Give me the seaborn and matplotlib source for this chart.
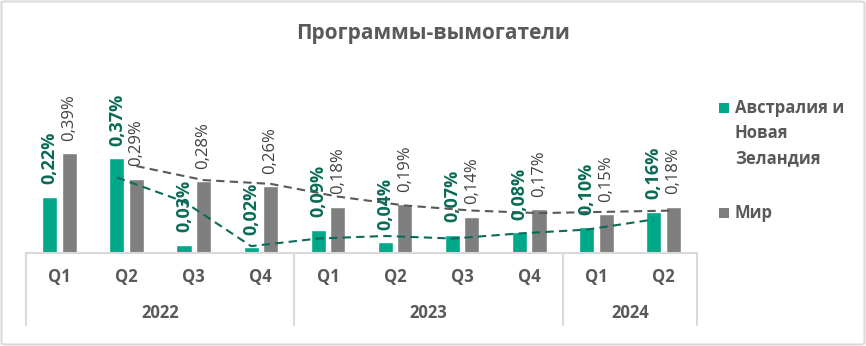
import numpy as np
import pandas as pd
import matplotlib
matplotlib.use("Agg")
import matplotlib.pyplot as plt
import matplotlib.transforms as mtransforms
from matplotlib.patches import FancyBboxPatch, Rectangle
import seaborn as sns

# Data: share of ransomware detections, %
years = ["2022", "2022", "2022", "2022", "2023", "2023", "2023", "2023", "2024", "2024"]
quarters = ["Q1", "Q2", "Q3", "Q4", "Q1", "Q2", "Q3", "Q4", "Q1", "Q2"]
series_names = ["Австралия и\nНовая\nЗеландия", "Мир"]
anz_values = [0.22, 0.37, 0.03, 0.02, 0.09, 0.04, 0.07, 0.08, 0.10, 0.16]
world_values = [0.39, 0.29, 0.28, 0.26, 0.18, 0.19, 0.14, 0.17, 0.15, 0.18]
title = "Программы-вымогатели"

bar_colors = ["#00A88A", "#7F7F7F"]
label_colors = ["#0B6B57", "#404040"]
trend_colors = ["#0B6B57", "#595959"]
text_grey = "#595959"
frame_grey = "#D9D9D9"

sns.set_theme(style="white")
plt.rcParams["font.family"] = ["Open Sans", "DejaVu Sans"]

W, H, DPI = 866, 346, 100
fig = plt.figure(figsize=(W / DPI, H / DPI), dpi=DPI)

# plot area in pixel terms
ax_left, ax_right, ax_base, ax_top = 26, 697, 252.5, 100
ax = fig.add_axes([ax_left / W, 1 - ax_base / H, (ax_right - ax_left) / W, (ax_base - ax_top) / H])

periods = [f"{y} {q}" for y, q in zip(years, quarters)]
df = pd.DataFrame({
    "period": periods * 2,
    "series": [series_names[0]] * len(periods) + [series_names[1]] * len(periods),
    "value": anz_values + world_values,
})

sns.barplot(data=df, x="period", y="value", hue="series", order=periods,
            hue_order=series_names, palette=bar_colors, saturation=1,
            width=0.58, gap=0.225, legend=False, ax=ax)

ax.set_xlim(-0.5, len(periods) - 0.5)
ax.set_ylim(0, 0.6)
ax.set_xlabel("")
ax.set_ylabel("")
ax.set_xticks([])
ax.set_yticks([])
for side in ["left", "right", "top"]:
    ax.spines[side].set_visible(False)
ax.spines["bottom"].set_color(frame_grey)
ax.spines["bottom"].set_linewidth(1.5)

def fmt(v):
    return f"{v:.2f}".replace(".", ",") + "%"

series_values = [anz_values, world_values]
for i, (container, vals) in enumerate(zip(ax.containers, series_values)):
    xs = np.array([b.get_x() + b.get_width() / 2 for b in container])
    # value labels
    for x, v in zip(xs, vals):
        ax.annotate(fmt(v), xy=(x, v), xytext=(0, 9), textcoords="offset points",
                    rotation=90, ha="center", va="bottom",
                    fontsize=13 if i == 0 else 12,
                    fontweight="bold" if i == 0 else "normal",
                    color=label_colors[i], annotation_clip=False, zorder=5)
    # two-period moving average trend line
    ma = pd.Series(vals).rolling(2).mean().to_numpy()
    ax.plot(xs[1:], ma[1:], color=trend_colors[i], lw=1.5,
            ls=(0, (4, 2.5)), zorder=4, clip_on=False)

# multi-level category axis
tr = mtransforms.blended_transform_factory(ax.transData, fig.transFigure)
def fy(px):
    return 1 - px / H

for k, q in enumerate(quarters):
    fig.text(k, fy(277), q, transform=tr, ha="center", va="center",
             fontsize=12, fontweight="bold", color=text_grey)

year_groups = []
for k, y in enumerate(years):
    if not year_groups or year_groups[-1][0] != y:
        year_groups.append([y, k, k])
    else:
        year_groups[-1][2] = k
for y, k0, k1 in year_groups:
    fig.text((k0 + k1) / 2, fy(313), y, transform=tr, ha="center", va="center",
             fontsize=12, fontweight="bold", color=text_grey)

bounds = [-0.5] + [k1 + 0.5 for _, _, k1 in year_groups]
for b in bounds:
    fig.add_artist(plt.Line2D([b, b], [fy(252.5), fy(325)], transform=tr,
                              color=frame_grey, lw=1.5))

# title
fig.text(0.5, fy(34), title, ha="center", va="center", fontsize=15,
         fontweight="bold", color=text_grey)

# legend with multi-line entries, marker aligned to the first line
legend_rows = [(series_names[0], 108), (series_names[1], 213)]
for i, (name, yc) in enumerate(legend_rows):
    fig.add_artist(Rectangle((719 / W, fy(yc + 5)), 10 / W, 10 / H,
                             transform=fig.transFigure, color=bar_colors[i], lw=0))
    for j, line in enumerate(name.split("\n")):
        fig.text(735 / W, fy(yc + 25 * j), line, ha="left", va="center",
                 fontsize=12, fontweight="bold", color=text_grey)

# chart border
fig.add_artist(FancyBboxPatch((1.5 / W, 1.5 / H), (W - 3) / W, (H - 3) / H,
                              boxstyle="round,pad=0,rounding_size=0.004",
                              transform=fig.transFigure, fill=False,
                              edgecolor=frame_grey, lw=1.5))

fig.savefig("out.png", dpi=DPI)
